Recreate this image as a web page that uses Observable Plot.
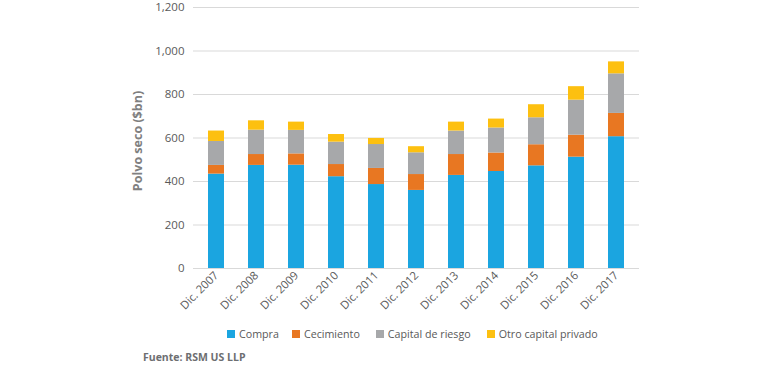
<!DOCTYPE html>
<html>
<head>
<meta charset="utf-8">
<script src="https://cdn.jsdelivr.net/npm/d3@7"></script>
<script src="https://cdn.jsdelivr.net/npm/@observablehq/plot@0.6"></script>
<style>
  html, body { margin: 0; padding: 0; background: #fff; }
  body { width: 770px; height: 367px; position: relative; overflow: hidden; font-family: "Open Sans", "Lato", sans-serif; }
  #chart { position: absolute; left: 0; top: 0; }
  #legend { position: absolute; left: 227px; top: 327px; display: flex; align-items: center; font-size: 10.7px; color: #595959; white-space: nowrap; }
  #legend .item { display: flex; align-items: center; }
  #legend .sw { width: 8px; height: 8px; margin-right: 4px; }
  #source { position: absolute; left: 143px; top: 350px; font-size: 10.5px; font-weight: bold; color: #6d6e71; }
</style>
</head>
<body>
<div id="chart"></div>
<div id="legend"></div>
<div id="source">Fuente: RSM US LLP</div>
<script>
const categories = ["Dic. 2007","Dic. 2008","Dic. 2009","Dic. 2010","Dic. 2011","Dic. 2012","Dic. 2013","Dic. 2014","Dic. 2015","Dic. 2016","Dic. 2017"];
const seriesNames = ["Compra","Cecimiento","Capital de riesgo","Otro capital privado"];
const compra = [434,474,475,422,386,359,428,446,472,512,606];
const crecimiento = [40,50,52,56,74,73,96,85,97,101,107];
const capitalRiesgo = [110,112,108,103,110,100,108,115,124,161,182];
const otroCapital = [48,43,38,35,28,28,41,41,60,62,55];
const yTicks = [0,200,400,600,800,1000,1200];
const colors = ["#1ba5e0","#e87722","#a7a8aa","#fdc010"];

const seriesValues = [compra, crecimiento, capitalRiesgo, otroCapital];
const data = [];
seriesNames.forEach((s, i) => {
  categories.forEach((c, j) => data.push({category: c, series: s, value: seriesValues[i][j]}));
});

const chart = Plot.plot({
  width: 770,
  height: 318,
  marginTop: 7,
  marginBottom: 50,
  marginLeft: 193,
  marginRight: 131,
  style: {fontFamily: "'Open Sans', Lato, sans-serif", fontSize: "11px", color: "#595959", background: "#fff"},
  x: {domain: categories, paddingInner: 0.6, paddingOuter: 0.31, align: 0.5, label: null},
  y: {domain: [0, 1200], label: null},
  color: {domain: seriesNames, range: colors},
  marks: [
    Plot.gridY(yTicks, {stroke: "#d9d9d9", strokeOpacity: 1, strokeWidth: 1}),
    Plot.barY(data, {x: "category", y: "value", fill: "series", order: seriesNames}),
    Plot.ruleY([0], {stroke: "#d9d9d9"}),
    Plot.axisX({tickRotate: -45, tickSize: 0, tickPadding: 5, fontSize: 11.3, fill: "#595959", label: null}),
    Plot.axisY({ticks: yTicks, tickFormat: d3.format(","), tickSize: 0, tickPadding: 9, fontSize: 11.5, fill: "#595959", label: null})
  ]
});
document.getElementById("chart").appendChild(chart);

// y label
const svg = d3.select(chart);
svg.append("text")
  .attr("transform", "translate(142,141) rotate(-90)")
  .attr("text-anchor", "middle")
  .attr("font-family", "'Open Sans', Lato, sans-serif")
  .attr("font-size", 12.5)
  .attr("font-weight", "bold")
  .attr("fill", "#808080")
  .text("Polvo seco ($bn)");

const legend = document.getElementById("legend");
const gaps = [13, 16, 16, 0];
seriesNames.forEach((s, i) => {
  const item = document.createElement("div");
  item.className = "item";
  item.style.marginRight = gaps[i] + "px";
  const sw = document.createElement("span");
  sw.className = "sw";
  sw.style.background = colors[i];
  const t = document.createElement("span");
  t.textContent = s;
  item.appendChild(sw); item.appendChild(t);
  legend.appendChild(item);
});
</script>
</body>
</html>
